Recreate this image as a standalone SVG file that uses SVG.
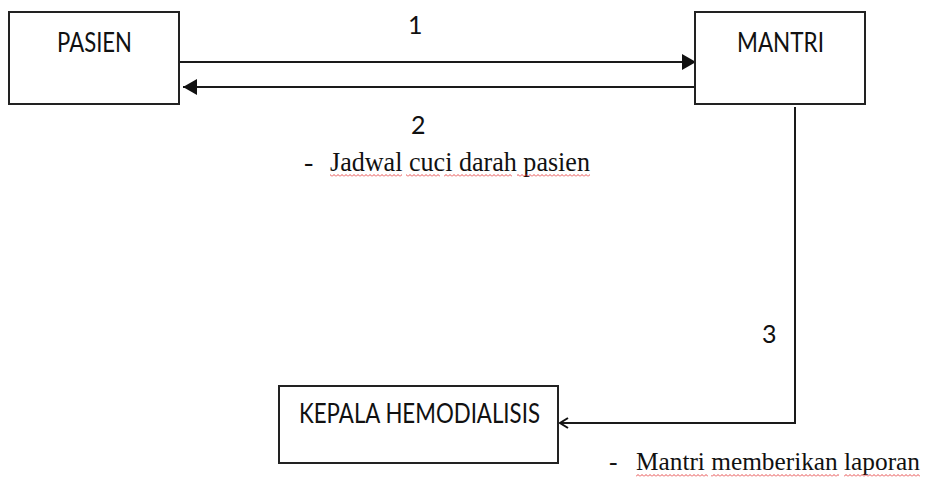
<svg xmlns="http://www.w3.org/2000/svg" width="928" height="482" viewBox="0 0 928 482">
<style>
.box{fill:#fff;stroke:#222;stroke-width:2}
.lbl{font-family:Lato,"Open Sans","Liberation Sans",sans-serif;font-size:26px;fill:#111}
.num{font-family:Lato,"Open Sans","Liberation Sans",sans-serif;font-size:25px;fill:#111}
.ser{font-family:"Liberation Serif","DejaVu Serif",serif;font-size:28px;fill:#111}
.ser2{font-family:"Liberation Serif","DejaVu Serif",serif;font-size:25.5px;fill:#111}
.ln{fill:none;stroke:#1a1a1a;stroke-width:2}
</style>
<defs>
<marker id="fill" markerUnits="userSpaceOnUse" markerWidth="14" markerHeight="16" refX="14" refY="8" orient="auto">
<path d="M0,0 L14,8 L0,16 z" fill="#111"/>
</marker>
<marker id="open" markerUnits="userSpaceOnUse" markerWidth="12" markerHeight="14" refX="9" refY="6" orient="auto">
<path d="M1,1 L9,6 L1,11" fill="none" stroke="#111" stroke-width="2"/>
</marker>
<pattern id="sq" width="4" height="3" patternUnits="userSpaceOnUse">
<path d="M0,2.5 L2,0.5 L4,2.5" fill="none" stroke="#e02020" stroke-width="0.8"/>
</pattern>
</defs>
<g id="connectors">
<line class="ln" x1="179" y1="62" x2="696" y2="62" marker-end="url(#fill)"/>
<line class="ln" x1="694" y1="87" x2="183" y2="87" marker-end="url(#fill)"/>
<path class="ln" d="M795,107 V423 H560" marker-end="url(#open)"/>
<text class="num" x="408" y="34">1</text>
<text class="num" x="411" y="134">2</text>
<text class="num" x="762" y="343">3</text>
</g>
<g id="pasien">
<rect class="box" x="9" y="12" width="170" height="92"/>
<text class="lbl" x="57" y="52" textLength="75" lengthAdjust="spacingAndGlyphs">PASIEN</text>
</g>
<g id="mantri">
<rect class="box" x="695" y="12" width="170" height="92"/>
<text class="lbl" x="737" y="52" textLength="87" lengthAdjust="spacingAndGlyphs">MANTRI</text>
</g>
<g id="kepala">
<rect class="box" x="279" y="386" width="279" height="77"/>
<text class="lbl" x="299" y="423" textLength="241" lengthAdjust="spacingAndGlyphs">KEPALA HEMODIALISIS</text>
</g>
<g id="note1">
<text class="ser" x="304" y="171">-</text>
<text class="ser" x="330" y="171" textLength="260" lengthAdjust="spacingAndGlyphs">Jadwal cuci darah pasien</text>
<rect x="330" y="174" width="72" height="3" fill="url(#sq)"/>
<rect x="406" y="174" width="34" height="3" fill="url(#sq)"/>
<rect x="444" y="174" width="68" height="3" fill="url(#sq)"/>
<rect x="517" y="174" width="73" height="3" fill="url(#sq)"/>
</g>
<g id="note2">
<text class="ser2" x="609" y="470">-</text>
<text class="ser2" x="636" y="470" textLength="284" lengthAdjust="spacingAndGlyphs">Mantri memberikan laporan</text>
<rect x="636" y="474" width="72" height="3" fill="url(#sq)"/>
<rect x="711" y="474" width="128" height="3" fill="url(#sq)"/>
<rect x="844" y="474" width="76" height="3" fill="url(#sq)"/>
</g>
</svg>
